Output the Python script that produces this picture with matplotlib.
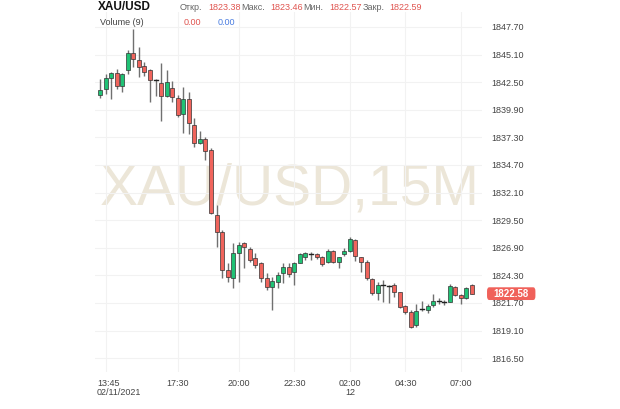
import numpy as np
import matplotlib
matplotlib.use('Agg')
import matplotlib.pyplot as plt
from matplotlib.patches import Rectangle, FancyBboxPatch

plt.rcParams['font.family'] = ['Liberation Sans', 'DejaVu Sans']

# 15 min candles, XAU/USD
opens = [1841.29, 1841.86, 1842.90, 1843.37, 1842.14, 1843.65, 1845.25, 1844.59, 1844.03, 1843.65,
         1842.71, 1842.42, 1841.20, 1841.95, 1841.01, 1839.50, 1840.92, 1838.47, 1836.77, 1837.15,
         1836.11, 1829.99, 1828.39, 1824.81, 1824.06, 1826.41, 1827.35, 1826.79, 1825.94, 1825.47,
         1824.06, 1823.21, 1823.68, 1824.53, 1825.09, 1824.62, 1825.47, 1826.03, 1826.32, 1826.32,
         1826.03, 1825.56, 1826.60, 1825.56, 1826.32, 1826.60, 1827.64, 1826.03, 1825.56, 1823.96,
         1822.64, 1823.40, 1823.30, 1823.40, 1822.74, 1821.42, 1820.85, 1819.63, 1821.14, 1821.04,
         1821.51, 1821.89, 1821.80, 1821.80, 1823.21, 1822.45, 1822.17, 1823.38]
highs = [1842.80, 1843.27, 1843.46, 1843.74, 1843.37, 1845.53, 1847.51, 1845.82, 1844.40, 1843.74,
         1842.80, 1844.31, 1843.65, 1842.61, 1841.29, 1842.05, 1841.58, 1839.13, 1837.90, 1837.34,
         1836.30, 1830.93, 1828.58, 1825.47, 1827.35, 1827.45, 1827.40, 1826.98, 1826.41, 1825.56,
         1824.53, 1824.15, 1824.62, 1825.47, 1825.47, 1825.56, 1826.41, 1826.51, 1826.51, 1826.41,
         1826.13, 1826.79, 1826.69, 1826.03, 1826.88, 1827.92, 1827.73, 1826.03, 1825.75, 1824.06,
         1823.68, 1823.87, 1823.40, 1823.58, 1822.74, 1821.51, 1821.04, 1821.61, 1821.89, 1821.61,
         1822.55, 1822.17, 1821.98, 1823.49, 1823.30, 1822.55, 1823.21, 1823.46]
lows = [1841.01, 1841.39, 1840.92, 1841.86, 1841.58, 1843.27, 1843.93, 1842.99, 1843.08, 1840.64,
        1841.20, 1838.85, 1841.11, 1840.64, 1839.22, 1837.71, 1837.62, 1836.40, 1836.68, 1835.17,
        1830.08, 1826.98, 1824.06, 1823.68, 1823.11, 1823.68, 1825.00, 1825.56, 1825.00, 1823.68,
        1822.93, 1821.04, 1823.11, 1823.58, 1824.15, 1823.40, 1825.47, 1825.75, 1825.75, 1825.85,
        1825.19, 1825.47, 1825.47, 1825.00, 1826.13, 1826.51, 1825.66, 1824.62, 1823.87, 1822.45,
        1821.98, 1821.80, 1821.70, 1822.27, 1821.23, 1820.66, 1819.35, 1819.44, 1820.95, 1820.76,
        1821.32, 1821.61, 1821.51, 1821.80, 1822.36, 1821.61, 1822.08, 1822.57]
closes = [1841.77, 1842.90, 1843.37, 1842.14, 1843.27, 1845.25, 1844.69, 1843.93, 1843.46, 1842.71,
          1842.71, 1841.20, 1842.52, 1841.11, 1839.41, 1840.92, 1838.66, 1836.77, 1837.15, 1836.02,
          1830.18, 1828.39, 1824.81, 1824.15, 1826.41, 1827.16, 1826.98, 1825.75, 1825.28, 1824.06,
          1823.21, 1823.77, 1824.34, 1825.09, 1824.43, 1825.47, 1826.32, 1826.41, 1826.32, 1826.03,
          1825.37, 1826.60, 1825.56, 1826.03, 1826.60, 1827.73, 1826.13, 1825.56, 1824.06, 1822.64,
          1823.40, 1823.40, 1823.30, 1822.74, 1821.32, 1820.85, 1819.44, 1820.95, 1821.14, 1821.42,
          1821.89, 1821.89, 1821.80, 1823.30, 1822.45, 1822.17, 1823.11, 1822.59]

y_ticks = [1816.50, 1819.10, 1821.70, 1824.30, 1826.90, 1829.50, 1832.10,
           1834.70, 1837.30, 1839.90, 1842.50, 1845.10, 1847.70]
x_tick_idx = [1, 14, 25, 35, 45, 55, 65]
x_tick_labels = ['13:45\n02/11/2021', '17:30', '20:00', '22:30', '02:00\n12', '04:30', '07:00']

last_price = 1822.58
header_vals = ['1823.38', '1823.46', '1822.57', '1822.59']
header_names = ['Откр.', 'Макс.', 'Мин.', 'Закр.']

GREEN = '#20c275'
RED = '#f0645c'

fig = plt.figure(figsize=(6.2, 4.09), dpi=100)
ax = fig.add_axes([95/620, 1 - 372/409, 387/620, 360/409])
ax.set_xlim(-0.9, 68.8)
ax.set_ylim(1815.20, 1849.11)

# watermark
ax.text(34.2, 1832.35, 'XAU/USD,15M', fontsize=41, color='#ece6d8',
        ha='center', va='center', zorder=0)

w = 0.72
for i in range(len(opens)):
    o, h, l, c = opens[i], highs[i], lows[i], closes[i]
    ax.plot([i, i], [l, h], color='#707070', lw=1.0, zorder=2, solid_capstyle='butt')
    if abs(c - o) < 0.03:
        ax.plot([i - w/2, i + w/2], [o, o], color='#222222', lw=1.0, zorder=3)
        continue
    col = GREEN if c > o else RED
    ax.add_patch(Rectangle((i - w/2, min(o, c)), w, abs(c - o), facecolor=col,
                           edgecolor='#333333', lw=0.5, zorder=3))

ax.yaxis.tick_right()
ax.set_yticks(y_ticks)
ax.set_yticklabels(['%.2f' % v for v in y_ticks])
ax.set_xticks(x_tick_idx)
# first label is drawn left-aligned by hand below
ax.set_xticklabels([''] + x_tick_labels[1:])
for lab in ax.get_xticklabels():
    lab.set_linespacing(0.95)
ax.tick_params(axis='both', length=0, labelsize=6.5, colors='#444444')
ax.tick_params(axis='y', pad=7)
ax.tick_params(axis='x', pad=5)
ax.grid(True, color='#f2f2f2', lw=0.8, zorder=0)
for s in ax.spines.values():
    s.set_visible(False)
ax.text(-0.55, -0.0195, x_tick_labels[0], transform=ax.get_xaxis_transform(),
        ha='left', va='top', fontsize=6.5, color='#444444', linespacing=0.95)

# last price marker
tr = ax.get_yaxis_transform()
ax.add_patch(FancyBboxPatch((1.013, last_price - 0.6), 0.125, 1.2,
                            boxstyle='round,pad=0,rounding_size=0.006',
                            transform=tr, facecolor='#f0615a', edgecolor='none',
                            clip_on=False, zorder=5, mutation_aspect=60))
ax.text(1.0755, last_price, '%.2f' % last_price, transform=tr, color='white',
        fontsize=7, fontweight='bold', ha='center', va='center', zorder=6, clip_on=False)

# header
fig.text(98/620, 1 - 10/409, 'XAU/USD', fontsize=8.5, fontweight='bold', color='#111111', va='baseline')
name_x = [180, 241, 303, 363]
val_x = [208, 270, 329, 389]
for k in range(4):
    fig.text(name_x[k]/620, 1 - 10/409, header_names[k], fontsize=6.5, color='#666666', va='baseline')
    fig.text(val_x[k]/620, 1 - 10/409, header_vals[k], fontsize=6.5, color='#e05550', va='baseline')
fig.text(100/620, 1 - 25/409, 'Volume (9)', fontsize=6.5, color='#444444', va='baseline')
fig.text(184/620, 1 - 25/409, '0.00', fontsize=6.5, color='#e05550', va='baseline')
fig.text(218/620, 1 - 25/409, '0.00', fontsize=6.5, color='#4a7de0', va='baseline')

fig.savefig('out.png', dpi=100)
